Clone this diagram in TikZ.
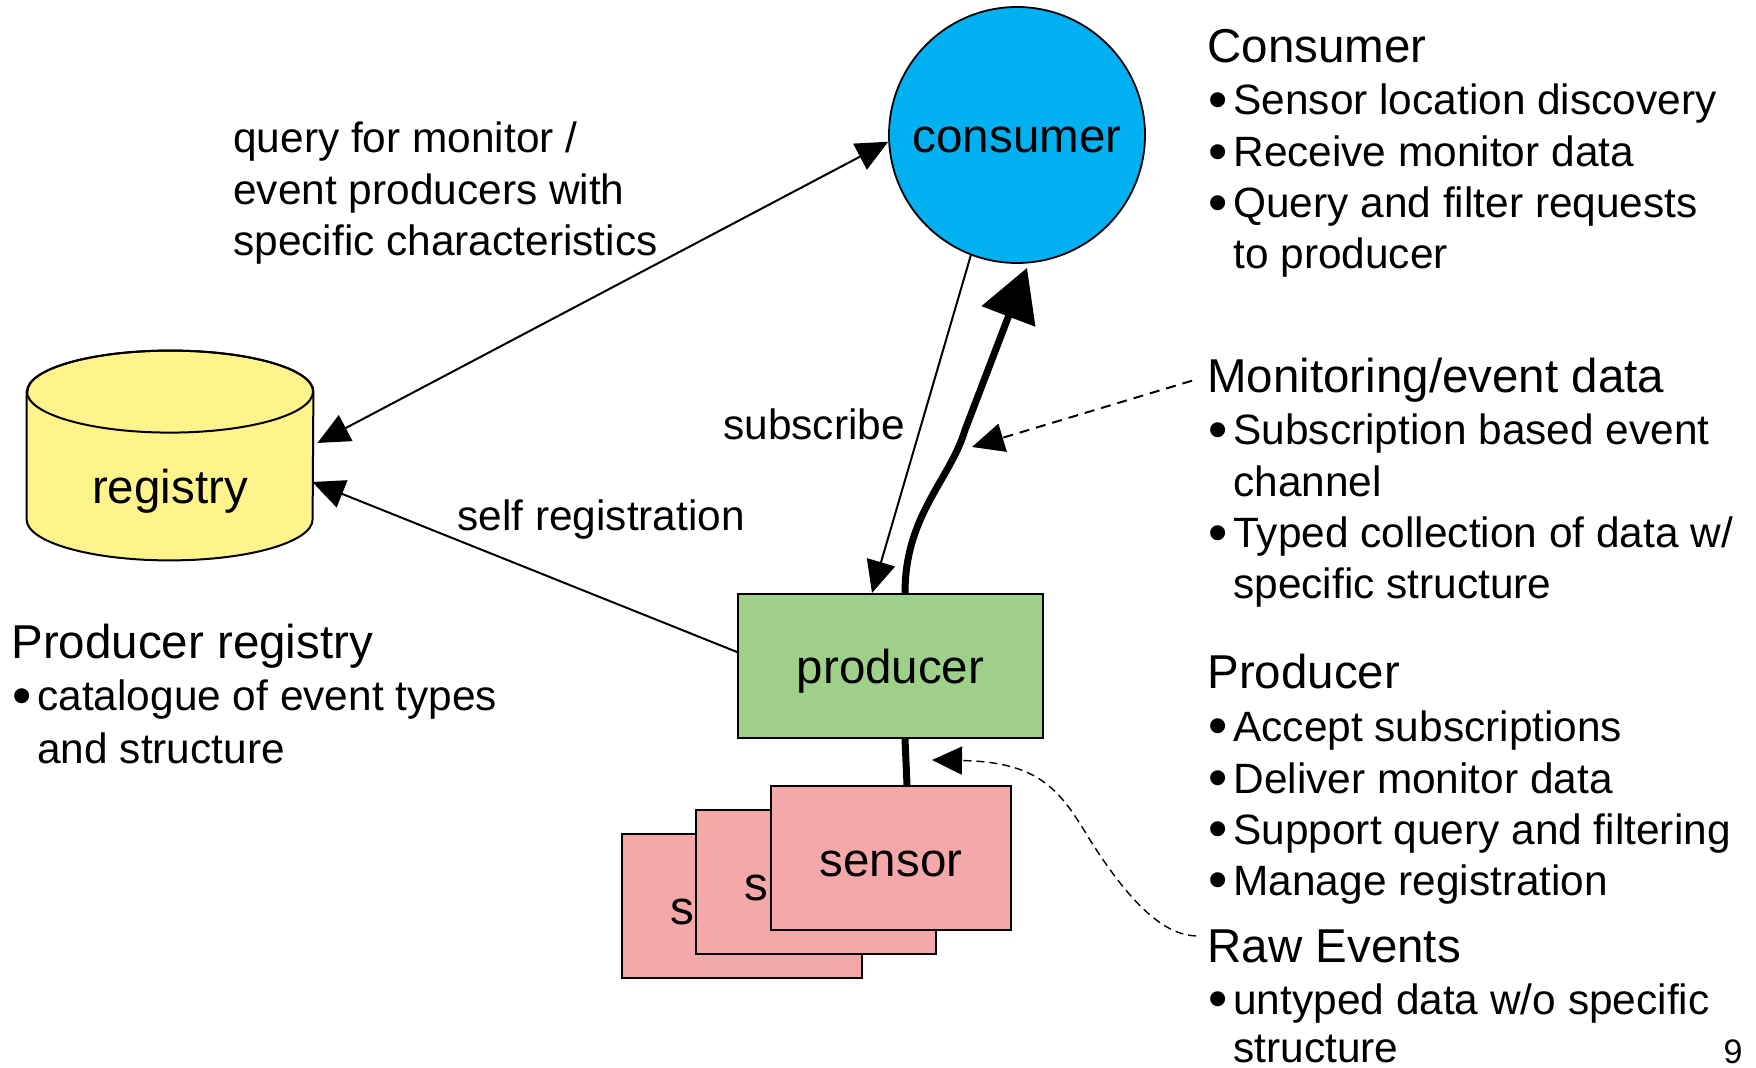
\documentclass[tikz,border=0pt]{standalone}
\usepackage{fontspec}
\usepackage{graphicx}
\setmainfont{Liberation Sans}
\usetikzlibrary{arrows.meta,calc,backgrounds}
\definecolor{consumerblue}{RGB}{0,176,240}
\definecolor{regyellow}{RGB}{255,244,140}
\definecolor{prodgreen}{RGB}{158,208,138}
\definecolor{sensorpink}{RGB}{245,168,170}
\newcommand\bul{\makebox[12.5pt][l]{\raisebox{-0.08em}{\scalebox{1.3}{•}}}}
\begin{document}
\begin{tikzpicture}[x=0.5pt,y=0.5pt,
  nodefont/.style={font=\fontsize{23.75pt}{28pt}\selectfont},
  headfont/.style={font=\fontsize{23.75pt}{28pt}\selectfont},
  itemfont/.style={font=\fontsize{21.2pt}{25.75pt}\selectfont},
  shapebox/.style={nodefont, draw=black, line width=1pt, inner sep=0pt,
    text height=18pt, text depth=0pt},
  sensorbox/.style={shapebox, fill=sensorpink, minimum width=120pt, minimum height=72pt},
  regbox/.style={nodefont, inner sep=0pt, minimum width=143pt, minimum height=104.5pt,
    text height=48pt, text depth=0pt},
  heading/.style={headfont, inner sep=0pt, anchor=base west},
  item/.style={itemfont, inner sep=0pt, anchor=base west},
  thinline/.style={line width=1pt, >={Triangle[length=16pt,width=14.5pt]}},
  thickline/.style={line width=3.5pt, >={Triangle[length=26pt,width=28pt]}},
  dashline/.style={line width=1pt, dash pattern=on 5pt off 3.5pt,
    >={Triangle[length=16pt,width=14.5pt]}},
  rawdash/.style={line width=0.7pt, dash pattern=on 4pt off 2.5pt,
    >={Triangle[length=15pt,width=14pt]}}]

\useasboundingbox (0,0) rectangle (1756,-1068);

% main components
\node[shapebox, circle, fill=consumerblue, line width=0.9pt, minimum size=128pt]
  (consumer) at (1017,-135) {consumer};
\node[regbox] (registry) at (170,-455.5) {registry};
\node[shapebox, fill=prodgreen, minimum width=152.5pt, minimum height=72pt]
  (producer) at (890.5,-666) {producer};

% stacked sensors, back to front
\node[sensorbox] (sensor3) at (741.5,-906) {sensor};
\node[sensorbox] (sensor2) at (816,-882) {sensor};
\node[sensorbox] (sensor1) at (891,-858) {sensor};

% white page and the registry cylinder behind everything else
\begin{pgfonlayer}{background}
  \fill[white] (0,0) rectangle (1756,-1068);
  \path[fill=regyellow, draw=black, line width=1pt]
    ($(registry.north west)+(0,-41)$) -- ($(registry.south west)+(0,41)$)
    arc[start angle=180, end angle=360, x radius=143, y radius=41]
    -- ($(registry.north east)+(0,-41)$)
    arc[start angle=0, end angle=180, x radius=143, y radius=41] -- cycle;
  \draw[line width=1pt] ($(registry.north)+(0,-41)$) ellipse[x radius=143, y radius=41];
\end{pgfonlayer}

% connector labels
\node[item] (querya) at (233,-153) {query for monitor /};
\node[item] (queryb) at (233,-205) {event producers with};
\node[item] (queryc) at (233,-256) {specific characteristics};
\node[item] (subscribe) at (723,-440) {subscribe};
\node[item] (selfreg) at (457,-531) {self registration};

% producer registry notes
\node[heading] (reghead) at (11,-659) {Producer registry};
\node[item] (rega) at (12,-711) {\bul catalogue of event types};
\node[item] (regb) at (37,-763) {and structure};

% consumer notes
\node[heading] (conshead) at (1207,-63) {Consumer};
\node[item] (consa) at (1208,-115) {\bul Sensor location discovery};
\node[item] (consb) at (1208,-167) {\bul Receive monitor data};
\node[item] (consc) at (1208,-218) {\bul Query and filter requests};
\node[item] (consd) at (1233,-269) {to producer};

% monitoring data notes
\node[heading] (monhead) at (1207,-393) {Monitoring/event data};
\node[item] (mona) at (1208,-445) {\bul Subscription based event};
\node[item] (monb) at (1233,-497) {channel};
\node[item] (monc) at (1208,-548) {\bul Typed collection of data w/};
\node[item] (mond) at (1233,-599) {specific structure};

% producer notes
\node[heading] (prodhead) at (1207,-689) {Producer};
\node[item] (proda) at (1208,-741) {\bul Accept subscriptions};
\node[item] (prodb) at (1208,-793) {\bul Deliver monitor data};
\node[item] (prodc) at (1208,-844) {\bul Support query and filtering};
\node[item] (prodd) at (1208,-895) {\bul Manage registration};

% raw event notes
\node[heading] (rawhead) at (1207,-962) {Raw Events};
\node[item] (rawa) at (1208,-1014) {\bul untyped data w/o specific};
\node[item] (rawb) at (1233,-1062) {structure};

% page number
\node[font=\fontsize{17pt}{20pt}\selectfont, inner sep=0pt, anchor=base]
  (pagenum) at (1733,-1063) {9};

% connectors
\draw[thinline,<->] (consumer.183) -- ($(registry.east)+(4,12.5)$);
\draw[thinline,->] ($(producer.west)+(0,14)$) -- ($(registry.east)+(-1,-26.5)$);
\draw[thinline,->] (consumer.249) -- ($(producer.north)+(-18.5,0)$);
\draw[thickline,->] ($(producer.north)+(14.5,0)$)
  .. controls (905,-515) and (950,-480) .. (965,-430)
  -- ($(consumer.south)+(10,-4)$);
\draw[thickline] ($(producer.south)+(14.5,0)$) -- ($(sensor1.north)+(16,0)$);

\coordinate (datatip) at (972,-447);
\draw[dashline,->] ($(monhead.west)+(-15,0)$) -- (datatip);

\coordinate (rawtip) at (932,-760);
\draw[rawdash,->] ($(rawhead.west)+(-11,10)$)
  .. controls (1160,-935) and (1125,-895) .. (1090,-840)
  .. controls (1060,-790) and (1040,-762) .. (rawtip);
\end{tikzpicture}
\end{document}
